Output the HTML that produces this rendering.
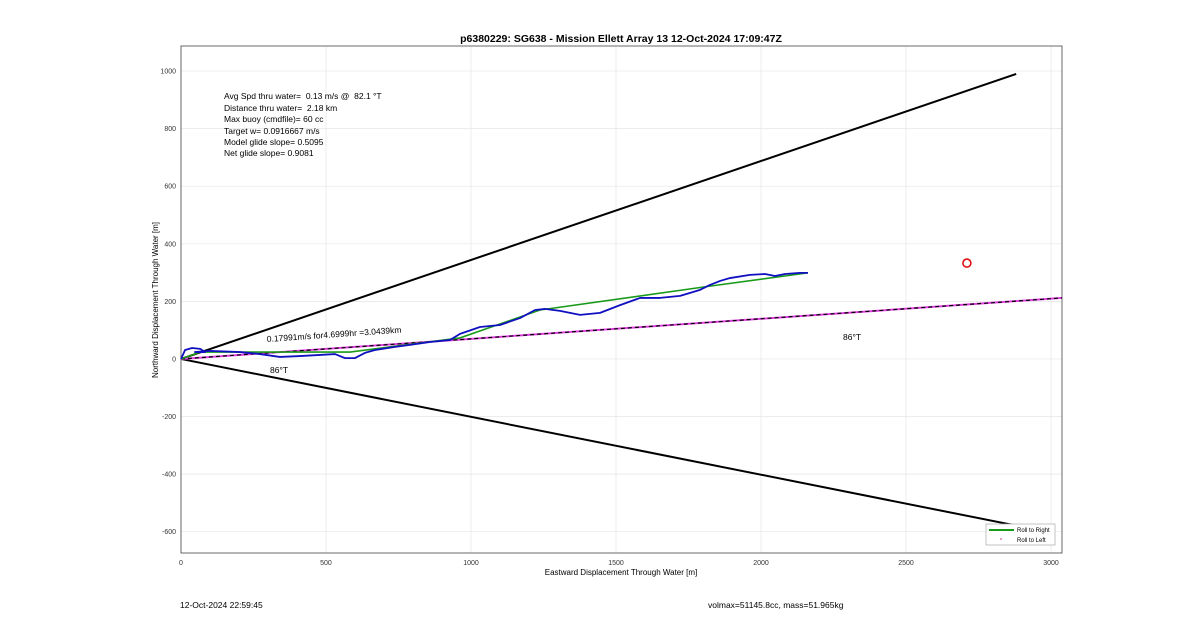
<!DOCTYPE html>
<html><head><meta charset="utf-8"><style>
body{margin:0;background:#fff;font-family:"Liberation Sans",sans-serif}
svg text{font-family:"Liberation Sans",sans-serif}
.pre{white-space:pre}
</style></head><body>
<svg width="1200" height="622" xmlns="http://www.w3.org/2000/svg">
<rect width="1200" height="622" fill="#fff"/>
<g id="grid"></g>
<g id="axes"></g>
<g id="marks"></g>
<text x="621" y="42" text-anchor="middle" font-size="10.5" font-weight="bold">p6380229: SG638 - Mission Ellett Array 13 12-Oct-2024 17:09:47Z</text>
<text x="621" y="575" text-anchor="middle" font-size="8">Eastward Displacement Through Water [m]</text>
<text x="158" y="300" text-anchor="middle" font-size="8" transform="rotate(-90 158 300)">Northward Displacement Through Water [m]</text>
<g font-size="8.5" class="pre">
<text x="224" y="99" xml:space="preserve">Avg Spd thru water=  0.13 m/s @  82.1 °T</text>
<text x="224" y="111" xml:space="preserve">Distance thru water=  2.18 km</text>
<text x="224" y="122">Max buoy (cmdfile)= 60 cc</text>
<text x="224" y="134">Target w= 0.0916667 m/s</text>
<text x="224" y="145">Model glide slope= 0.5095</text>
<text x="224" y="156">Net glide slope= 0.9081</text>
</g>
<text x="267" y="342" font-size="8.5" transform="rotate(-4 267 342)">0.17991m/s for4.6999hr =3.0439km</text>
<text x="270" y="373" font-size="8.5">86°T</text>
<text x="843" y="340" font-size="8.5">86°T</text>
<g>
<rect x="986" y="524" width="69" height="21" fill="#fff" stroke="#aaa" stroke-width="0.7"/>
<line x1="989" y1="530" x2="1014" y2="530" stroke="#1a9a1a" stroke-width="2"/>
<text x="1017" y="532" font-size="6">Roll to Right</text>
<circle cx="1001" cy="539" r="0.8" fill="#c03080"/>
<text x="1017" y="542" font-size="6">Roll to Left</text>
</g>
<text x="180" y="608" font-size="8.5">12-Oct-2024 22:59:45</text>
<text x="708" y="608" font-size="8.5">volmax=51145.8cc, mass=51.965kg</text>
</svg>
<script>
const xTicks=[0,500,1000,1500,2000,2500,3000];
const yTicks=[-600,-400,-200,0,200,400,600,800,1000];
const trackX=[0,14,38,66,83,48,100,203,272,341,410,479,531,565,600,634,669,738,790,859,928,962,1031,1100,1169,1221,1255,1307,1376,1445,1514,1583,1652,1721,1790,1824,1859,1893,1962,2014,2048,2083,2134,2162];
const trackY=[0,31,38,35,24,24,28,24,17,7,10,14,17,3,3,21,31,42,49,59,66,87,111,118,142,170,174,167,153,160,187,212,212,219,240,257,271,281,292,295,288,295,299,299];
const fitX=[0,66,583,962,1238,1824,2162];
const fitY=[0,24,24,73,170,253,299];
const coneEndsX=[2880,2985];
const coneEndsY=[990,-600];
const headingLineEnd=[3038,212];
const targetPoint=[2710,333];
const X0=181,X1=1062,Y0=46,Y1=553,xmin=0,xmax=3038,ymin=-674,ymax=1087;
const sx=v=>X0+(v-xmin)/(xmax-xmin)*(X1-X0);
const sy=v=>Y1-(v-ymin)/(ymax-ymin)*(Y1-Y0);
const NS='http://www.w3.org/2000/svg';
function mk(tag,parent,attrs){const e=document.createElementNS(NS,tag);for(const k in attrs)e.setAttribute(k,attrs[k]);document.getElementById(parent).appendChild(e);return e;}
xTicks.forEach(t=>{
 const g=mk('line','grid',{x1:sx(t),x2:sx(t),y1:Y0,y2:Y1,stroke:'#e6e6e6','stroke-width':0.7});
 
 
 const l=mk('text','axes',{x:sx(t),y:Y1+12,'text-anchor':'middle','font-size':7,fill:'#333'});
 l.textContent=t;
 
 
});
yTicks.forEach(t=>{
 const g=mk('line','grid',{x1:X0,x2:X1,y1:sy(t),y2:sy(t),stroke:'#e6e6e6','stroke-width':0.7});
 
 
 const l=mk('text','axes',{x:X0-5,y:sy(t)+2.5,'text-anchor':'end','font-size':7,fill:'#333'});
 l.textContent=t;
 
 
});
const box=mk('rect','axes',{x:X0,y:Y0,width:X1-X0,height:Y1-Y0,fill:'none',stroke:'#444','stroke-width':0.8});


coneEndsX.forEach((cx,i)=>{
 const l=mk('line','marks',{x1:sx(0),y1:sy(0),x2:sx(cx),y2:sy(coneEndsY[i]),stroke:'#000','stroke-width':2});
 
 
});
const hm=mk('line','marks',{x1:sx(0),y1:sy(0),x2:sx(headingLineEnd[0]),y2:sy(headingLineEnd[1]),stroke:'#e040e0','stroke-width':2});


const hd=mk('line','marks',{x1:sx(0),y1:sy(0),x2:sx(headingLineEnd[0]),y2:sy(headingLineEnd[1]),stroke:'#000','stroke-width':1.2,'stroke-dasharray':'4 3'});


const fp=mk('polyline','marks',{points:fitX.map((x,i)=>sx(x)+','+sy(fitY[i])).join(' '),fill:'none',stroke:'#1a9a1a','stroke-width':1.6});


const tp=mk('polyline','marks',{points:trackX.map((x,i)=>sx(x)+','+sy(trackY[i])).join(' '),fill:'none',stroke:'#1010c0','stroke-width':1.8,'stroke-linejoin':'round'});


const tc=mk('circle','marks',{cx:sx(targetPoint[0]),cy:sy(targetPoint[1]),r:4,fill:'none',stroke:'#e01010','stroke-width':1.6});


</script>
</body></html>
